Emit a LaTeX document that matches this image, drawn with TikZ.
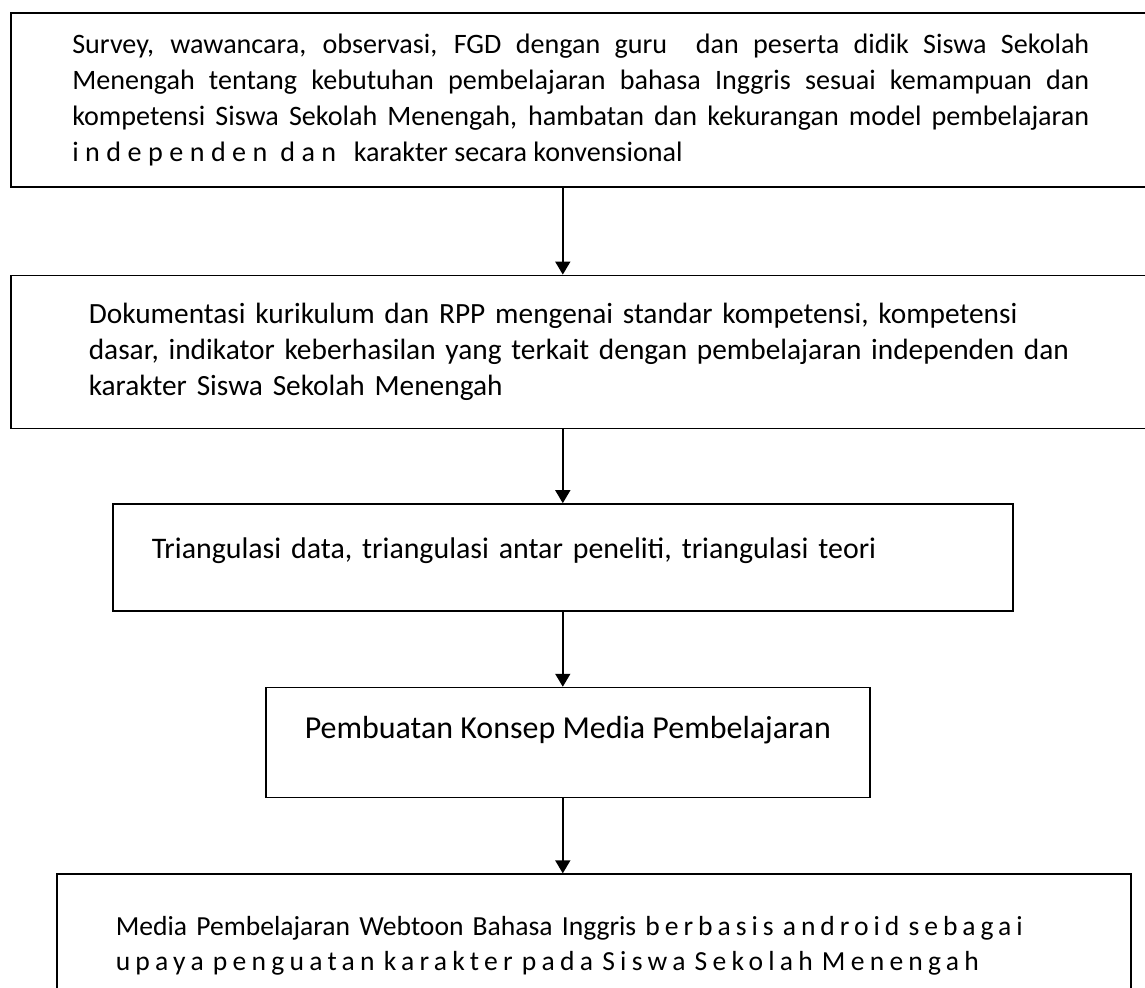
\documentclass[tikz,border=0pt]{standalone}
\usepackage{fontspec}
\setmainfont{Carlito}
\usetikzlibrary{positioning,arrows.meta}

\tikzstyle{process} = [rectangle, draw=black, line width=0.9pt, align=left, inner ysep=0pt]
\tikzstyle{arrow} = [line width=0.9pt, -{Triangle[width=0.3cm, length=0.26cm]}]

\begin{document}
\begin{tikzpicture}

  \useasboundingbox (0,0) rectangle (22.9,-19.74);
  \clip (0,0) rectangle (22.9,-19.74);

  \node (b1) [process, anchor=north west, text width=20.34cm, inner xsep=1.23cm, minimum height=3.48cm, align=justify, font=\fontsize{16}{20.5}\selectfont] at (0.2,-0.24) {Survey, wawancara, observasi, FGD dengan guru \ dan peserta didik Siswa Sekolah\linebreak Menengah tentang kebutuhan pembelajaran bahasa Inggris sesuai kemampuan dan\linebreak kompetensi Siswa Sekolah Menengah, hambatan dan kekurangan model pembelajaran\linebreak {\addfontfeature{LetterSpace=23}independen dan}\hspace{0.4em} karakter secara konvensional};
  \node (b2) [process, below=1.74cm of b1.south west, anchor=north west, text width=20.5cm, inner xsep=1.56cm, minimum height=3.06cm, font=\fontsize{16.7}{20.5}\selectfont] {Dokumentasi kurikulum dan RPP mengenai standar kompetensi, kompetensi\\ dasar, indikator keberhasilan yang terkait dengan pembelajaran independen dan\\ karakter Siswa Sekolah Menengah};
  \node (b3) [process, below=1.48cm of b2.south west, anchor=north west, xshift=2.04cm, text width=16.44cm, inner xsep=0.78cm, minimum height=2.14cm, text depth=0.36cm, font=\fontsize{17}{20.5}\selectfont] {Triangulasi data, triangulasi antar peneliti, triangulasi teori};
  \node (b4) [process, below=1.5cm of b3, xshift=0.1cm, minimum width=12.08cm, minimum height=2.2cm, text depth=0.62cm, font=\fontsize{18.2}{20.5}\selectfont] {Pembuatan Konsep Media Pembelajaran};
  \node (b5) [process, below=1.5cm of b4, xshift=0.52cm, text width=19.12cm, inner xsep=1.18cm, minimum height=2.86cm, font=\fontsize{15.7}{20}\selectfont] {Media Pembelajaran Webtoon Bahasa Inggris {\addfontfeature{LetterSpace=18}berbasis android sebagai}\\ {\addfontfeature{LetterSpace=19}upaya penguatan karakter pada Siswa Sekolah Menengah}};

  % --- %

  \draw [arrow] (b1.south -| b3.north) -- (b2.north -| b3.north);
  \draw [arrow] (b2.south -| b3.north) -- (b3.north);
  \draw [arrow] (b3.south) -- (b4.north -| b3.south);
  \draw [arrow] (b4.south -| b3.south) -- (b5.north -| b3.south);

\end{tikzpicture}
\end{document}
